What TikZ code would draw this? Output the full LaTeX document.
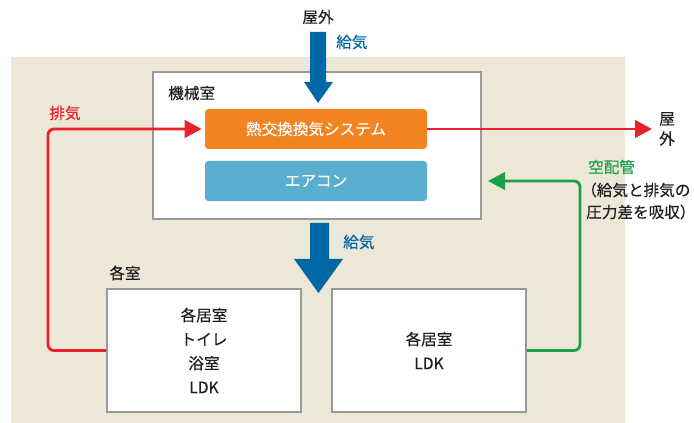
\documentclass[tikz,border=0pt]{standalone}
\usepackage{fontspec}
\setmainfont{Noto Sans CJK JP}[FakeBold=0.35]
\usetikzlibrary{arrows.meta}
\definecolor{bg}{HTML}{EDE7D8}
\definecolor{txt}{HTML}{231F20}
\definecolor{boxgray}{HTML}{999999}
\definecolor{orng}{HTML}{F28422}
\definecolor{sky}{HTML}{5AAED0}
\definecolor{dblue}{HTML}{0068A5}
\definecolor{rd}{HTML}{E8212B}
\definecolor{grn}{HTML}{1AA04A}
\tikzset{
  lbl/.style={font=\fontsize{11.7pt}{18pt}\selectfont, text=txt, inner sep=0pt},
  roombox/.style={draw=boxgray, line width=1.1pt, fill=white, minimum width=145.5pt, minimum height=92.25pt, align=center, lbl},
  unitbox/.style={rounded corners=2.5pt, minimum width=166.5pt, minimum height=30pt, lbl, text=white},
  flow/.style={line width=2.1pt, rounded corners=4.5pt, -{Triangle[length=12.75pt,width=13pt]}},
}
\begin{document}
\begin{tikzpicture}[x=0.75pt,y=-0.75pt]
\useasboundingbox (0,0) rectangle (694,423);
\fill[bg] (11,57) rectangle (625,423);

% machine room
\node[draw=boxgray, line width=1.1pt, fill=white, minimum width=246pt, minimum height=110.25pt] (mech) at (317,145.5) {};
\node[lbl, anchor=west] (mechlbl) at (168,93) {機械室};
\node[unitbox, fill=orng] (hrv) at (316,129) {熱交換換気システム};
\node[unitbox, fill=sky] (ac) at (316,181) {エアコン};

% rooms
\node[lbl] (roomslbl) at (125,273) {各室};
\node[roombox] (lroom) at (204,350.5) {各居室\\トイレ\\浴室\\LDK};
\node[roombox] (rroom) at (429,350.5) {各居室\\LDK};

% top supply arrow
\node[lbl] (outtop) at (318,17) {屋外};
\fill[dblue] (310,32) -- (326,32) -- (326,82) -- (333,82) -- (318,103) -- (304,82) -- (310,82) -- cycle;
\node[lbl, text=dblue, anchor=west] (sup1) at (336,42) {給気};

% middle supply arrow
\fill[dblue] (310,223) -- (329,223) -- (329,259) -- (343,259) -- (318.5,293) -- (294,259) -- (310,259) -- cycle;
\node[lbl, text=dblue, anchor=west] (sup2) at (343,242) {給気};

% exhaust
\node[lbl, text=rd] (exlbl) at (65,113) {排気};
\coordinate (rc) at (48,129);
\draw[flow, draw=rd, shorten >=2.25pt] (lroom.west) -| (rc) -- (hrv.west);
\coordinate (outR) at (652,129);
\draw[flow, draw=rd] (hrv.east) -- (outR);
\node[lbl, align=center, font=\fontsize{11.7pt}{15pt}\selectfont] (outRlbl) at (667,129) {屋\\外};

% air duct
\coordinate (gc) at (580,181);
\coordinate (gtip) at (488,181);
\draw[flow, draw=grn] (rroom.east) -| (gc) -- (gtip);
\node[lbl, text=grn, anchor=west] (ductlbl) at (588,167) {空配管};
\node[lbl, anchor=west] (duct2) at (581,190) {（給気と排気の};
\node[lbl, anchor=west] (duct3) at (586,212) {圧力差を吸収）};
\end{tikzpicture}
\end{document}
